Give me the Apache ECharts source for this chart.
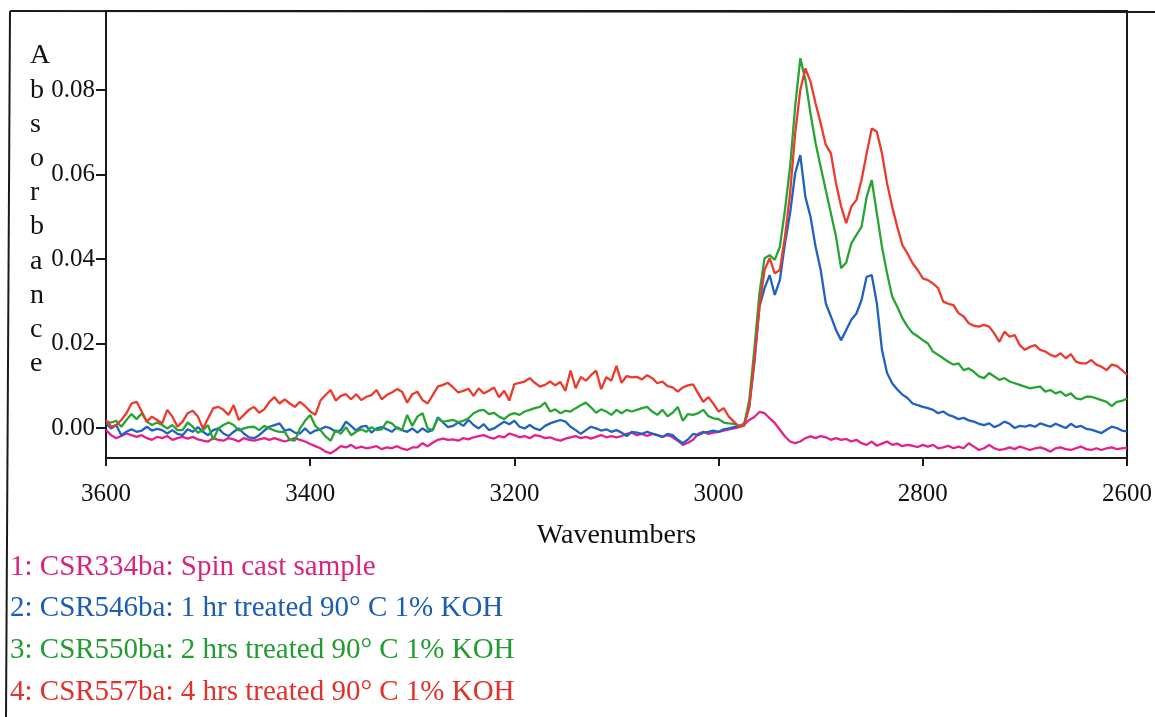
<!DOCTYPE html>
<html>
<head>
<meta charset="utf-8">
<script src="https://cdn.jsdelivr.net/npm/echarts@6/dist/echarts.min.js"></script>
<style>
html,body{margin:0;padding:0;background:#fff;}
#chart{width:1155px;height:717px;}
</style>
</head>
<body>
<div id="chart"></div>
<script>
// x sampling grid: 3600 -> 2600 cm-1, every 5 cm-1 (201 points)
const wavenumbers = [];
for (let w = 3600; w >= 2600; w -= 5) wavenumbers.push(w);

const seriesNames = [
  '1: CSR334ba: Spin cast sample',
  '2: CSR546ba: 1 hr treated 90° C 1% KOH',
  '3: CSR550ba: 2 hrs treated 90° C 1% KOH',
  '4: CSR557ba: 4 hrs treated 90° C 1% KOH'
];

const yTickValues = [0, 0.02, 0.04, 0.06, 0.08];
const xTickLabels = [3600, 3400, 3200, 3000, 2800, 2600];

const spinCast = [
  -0.0005,-0.0017,-0.0024,-0.0019,-0.0013,-0.0017,-0.0021,-0.0017,-0.0024,-0.0028,
  -0.0021,-0.0024,-0.0019,-0.0028,-0.0024,-0.0021,-0.0025,-0.0021,-0.0027,-0.0030,
  -0.0032,-0.0024,-0.0028,-0.0030,-0.0024,-0.0027,-0.0032,-0.0024,-0.0028,-0.0030,
  -0.0027,-0.0024,-0.0028,-0.0024,-0.0028,-0.0032,-0.0028,-0.0024,-0.0028,-0.0032,
  -0.0038,-0.0043,-0.0048,-0.0056,-0.0060,-0.0052,-0.0043,-0.0046,-0.0040,-0.0048,
  -0.0044,-0.0048,-0.0046,-0.0043,-0.0050,-0.0046,-0.0048,-0.0043,-0.0049,-0.0052,
  -0.0046,-0.0046,-0.0036,-0.0043,-0.0035,-0.0028,-0.0025,-0.0028,-0.0027,-0.0030,
  -0.0024,-0.0027,-0.0022,-0.0019,-0.0017,-0.0022,-0.0025,-0.0019,-0.0022,-0.0013,
  -0.0017,-0.0022,-0.0019,-0.0024,-0.0017,-0.0019,-0.0024,-0.0022,-0.0027,-0.0030,
  -0.0025,-0.0022,-0.0019,-0.0024,-0.0021,-0.0025,-0.0021,-0.0017,-0.0022,-0.0019,
  -0.0022,-0.0019,-0.0014,-0.0011,-0.0017,-0.0014,-0.0019,-0.0014,-0.0017,-0.0021,
  -0.0017,-0.0022,-0.0030,-0.0040,-0.0035,-0.0028,-0.0014,-0.0009,-0.0014,-0.0011,
  -0.0009,-0.0006,-0.0003,-0.0001,0.0002,0.0008,0.0019,0.0026,0.0038,0.0035,
  0.0023,0.0012,-0.0004,-0.0020,-0.0032,-0.0036,-0.0032,-0.0024,-0.0020,-0.0024,
  -0.0019,-0.0022,-0.0028,-0.0024,-0.0028,-0.0026,-0.0032,-0.0028,-0.0036,-0.0040,
  -0.0032,-0.0042,-0.0037,-0.0032,-0.0040,-0.0037,-0.0043,-0.0040,-0.0042,-0.0045,
  -0.0040,-0.0044,-0.0040,-0.0048,-0.0046,-0.0042,-0.0048,-0.0044,-0.0048,-0.0036,
  -0.0044,-0.0052,-0.0048,-0.0040,-0.0048,-0.0052,-0.0050,-0.0046,-0.0050,-0.0044,
  -0.0048,-0.0052,-0.0048,-0.0046,-0.0050,-0.0056,-0.0048,-0.0046,-0.0050,-0.0052,
  -0.0048,-0.0044,-0.0050,-0.0052,-0.0048,-0.0052,-0.0048,-0.0046,-0.0050,-0.0048,
  -0.0047
];

const treated1hr = [
  0.0011,-0.0001,0.0007,-0.0017,-0.0009,-0.0003,-0.0009,-0.0006,0.0003,-0.0006,
  -0.0002,-0.0005,-0.0013,-0.0005,-0.0014,-0.0017,-0.0003,-0.0009,0.0002,-0.0009,
  -0.0017,-0.0005,-0.0001,-0.0013,-0.0019,-0.0009,-0.0001,-0.0013,-0.0022,-0.0024,
  -0.0017,-0.0006,0.0003,0.0007,0.0011,-0.0006,-0.0003,-0.0011,-0.0013,-0.0001,
  -0.0013,-0.0006,-0.0003,0.0003,-0.0001,-0.0009,-0.0005,0.0015,0.0005,-0.0006,
  0.0003,0.0005,-0.0011,-0.0001,0.0002,-0.0003,-0.0009,0.0002,-0.0005,-0.0009,
  -0.0001,-0.0011,-0.0001,-0.0009,-0.0005,0.0025,0.0013,0.0002,0.0005,0.0013,
  0.0005,0.0019,0.0007,-0.0001,0.0009,-0.0005,-0.0001,0.0007,0.0015,0.0009,
  0.0017,0.0003,-0.0001,0.0007,-0.0001,-0.0005,0.0005,0.0011,0.0015,0.0019,
  0.0015,0.0003,-0.0005,-0.0014,-0.0005,0.0003,-0.0001,-0.0006,-0.0003,-0.0009,
  -0.0005,-0.0011,-0.0019,-0.0009,-0.0011,-0.0014,-0.0009,-0.0013,-0.0017,-0.0021,
  -0.0014,-0.0017,-0.0028,-0.0036,-0.0027,-0.0014,-0.0017,-0.0011,-0.0009,-0.0006,
  -0.0009,-0.0003,-0.0001,0.0002,0.0005,0.0010,0.0050,0.0153,0.0287,0.0331,
  0.0362,0.0315,0.0350,0.0437,0.0508,0.0603,0.0646,0.0547,0.0500,0.0429,
  0.0374,0.0295,0.0264,0.0232,0.0208,0.0232,0.0256,0.0271,0.0303,0.0358,
  0.0362,0.0295,0.0185,0.0130,0.0106,0.0091,0.0079,0.0071,0.0058,0.0054,
  0.0050,0.0047,0.0043,0.0035,0.0039,0.0031,0.0027,0.0021,0.0024,0.0018,
  0.0015,0.0010,0.0007,0.0011,0.0002,0.0007,0.0015,0.0010,0.0000,0.0005,
  0.0003,0.0007,0.0003,0.0011,0.0007,0.0003,0.0010,0.0005,0.0000,0.0010,
  0.0002,0.0005,-0.0002,-0.0004,-0.0008,-0.0012,-0.0004,0.0003,0.0000,-0.0006,
  -0.0008
];

const treated2hrs = [
  0.0015,0.0013,0.0017,0.0003,0.0019,0.0033,0.0021,0.0035,0.0015,0.0007,
  0.0013,0.0007,-0.0001,0.0007,-0.0005,-0.0005,0.0013,0.0003,-0.0011,-0.0005,
  0.0007,-0.0028,-0.0001,0.0007,0.0013,0.0007,-0.0006,-0.0001,0.0002,0.0003,
  -0.0005,0.0005,-0.0001,-0.0006,-0.0009,-0.0009,-0.0028,-0.0030,-0.0001,0.0017,
  0.0031,0.0005,-0.0005,-0.0020,-0.0030,-0.0005,-0.0014,0.0002,-0.0017,-0.0009,
  -0.0003,-0.0009,0.0002,-0.0005,-0.0003,0.0015,0.0011,-0.0001,-0.0005,0.0031,
  0.0005,0.0027,0.0035,-0.0001,-0.0005,0.0023,0.0015,0.0017,0.0019,0.0014,
  0.0017,0.0023,0.0035,0.0041,0.0043,0.0033,0.0036,0.0027,0.0021,0.0031,
  0.0035,0.0031,0.0039,0.0043,0.0047,0.0050,0.0060,0.0039,0.0044,0.0035,
  0.0041,0.0039,0.0047,0.0054,0.0060,0.0049,0.0036,0.0044,0.0039,0.0031,
  0.0043,0.0035,0.0043,0.0039,0.0043,0.0047,0.0050,0.0039,0.0031,0.0043,
  0.0028,0.0036,0.0050,0.0017,0.0033,0.0031,0.0035,0.0043,0.0028,0.0023,
  0.0021,0.0013,0.0011,0.0010,0.0005,0.0008,0.0066,0.0185,0.0319,0.0402,
  0.0409,0.0398,0.0429,0.0516,0.0618,0.0761,0.0875,0.0824,0.0745,0.0674,
  0.0618,0.0563,0.0508,0.0453,0.0378,0.0392,0.0437,0.0457,0.0476,0.0547,
  0.0587,0.0508,0.0429,0.0366,0.0311,0.0287,0.0260,0.0240,0.0225,0.0217,
  0.0208,0.0200,0.0181,0.0173,0.0165,0.0157,0.0150,0.0153,0.0137,0.0141,
  0.0133,0.0122,0.0118,0.0130,0.0122,0.0114,0.0118,0.0110,0.0106,0.0102,
  0.0098,0.0094,0.0096,0.0098,0.0086,0.0090,0.0082,0.0086,0.0076,0.0082,
  0.0070,0.0068,0.0074,0.0074,0.0070,0.0066,0.0062,0.0052,0.0062,0.0064,
  0.0070
];

const treated4hrs = [
  0.0019,0.0003,0.0007,0.0019,0.0035,0.0058,0.0062,0.0039,0.0015,0.0027,
  0.0019,0.0011,0.0043,0.0027,0.0003,0.0015,0.0035,0.0041,0.0027,-0.0001,
  0.0023,0.0047,0.0050,0.0043,0.0031,0.0054,0.0019,0.0031,0.0043,0.0050,
  0.0036,0.0044,0.0062,0.0073,0.0058,0.0068,0.0058,0.0050,0.0062,0.0052,
  0.0039,0.0031,0.0065,0.0078,0.0090,0.0065,0.0076,0.0080,0.0068,0.0080,
  0.0066,0.0074,0.0078,0.0090,0.0068,0.0078,0.0084,0.0092,0.0086,0.0060,
  0.0080,0.0086,0.0066,0.0058,0.0078,0.0098,0.0102,0.0107,0.0096,0.0084,
  0.0088,0.0093,0.0076,0.0094,0.0082,0.0088,0.0096,0.0073,0.0088,0.0065,
  0.0104,0.0107,0.0110,0.0118,0.0107,0.0098,0.0102,0.0110,0.0101,0.0109,
  0.0088,0.0136,0.0094,0.0121,0.0112,0.0125,0.0136,0.0092,0.0120,0.0112,
  0.0147,0.0107,0.0123,0.0120,0.0121,0.0115,0.0125,0.0118,0.0106,0.0110,
  0.0099,0.0096,0.0086,0.0096,0.0101,0.0103,0.0082,0.0062,0.0073,0.0057,
  0.0039,0.0047,0.0027,0.0015,0.0003,0.0005,0.0050,0.0161,0.0287,0.0374,
  0.0402,0.0366,0.0374,0.0453,0.0555,0.0697,0.0800,0.0851,0.0820,0.0768,
  0.0721,0.0670,0.0650,0.0579,0.0524,0.0485,0.0524,0.0540,0.0587,0.0650,
  0.0709,0.0701,0.0650,0.0579,0.0524,0.0476,0.0433,0.0413,0.0390,0.0374,
  0.0354,0.0350,0.0342,0.0331,0.0299,0.0294,0.0291,0.0272,0.0264,0.0248,
  0.0242,0.0240,0.0244,0.0240,0.0224,0.0204,0.0228,0.0216,0.0220,0.0196,
  0.0185,0.0192,0.0196,0.0185,0.0181,0.0173,0.0169,0.0177,0.0165,0.0175,
  0.0157,0.0153,0.0153,0.0161,0.0150,0.0145,0.0137,0.0150,0.0147,0.0137,
  0.0126
];

const seriesValues = [spinCast, treated1hr, treated2hrs, treated4hrs];
const lineColors = ['#e2218b', '#1f62c4', '#27a532', '#ec3a2d'];
const textColors = ['#d9237f', '#1b5db6', '#229c30', '#e2312a'];

const SERIF = '"Liberation Serif", "DejaVu Serif", serif';

const chart = echarts.init(document.getElementById('chart'), null, {renderer: 'canvas'});

const series = seriesValues.map((vals, i) => ({
  name: seriesNames[i],
  type: 'line',
  showSymbol: false,
  symbol: 'none',
  smooth: false,
  animation: false,
  lineStyle: {color: lineColors[i], width: 2.3},
  itemStyle: {color: lineColors[i]},
  data: vals.map((v, j) => [wavenumbers[j], v]),
  z: 2 + i
}));

chart.setOption({
  backgroundColor: '#ffffff',
  animation: false,
  grid: {
    left: 106, right: 26, top: 11, bottom: 259,
    show: true, borderColor: '#1a1a1a', borderWidth: 2, backgroundColor: 'transparent'
  },
  legend: {
    orient: 'vertical',
    left: 5,
    top: 552,
    height: 170,
    padding: 0,
    icon: 'none',
    itemWidth: 0,
    itemHeight: 30,
    itemGap: 11.7,
    selectedMode: false,
    data: seriesNames.map((n, i) => ({name: n, icon: 'none', textStyle: {color: textColors[i]}})),
    textStyle: {fontFamily: SERIF, fontSize: 29, lineHeight: 30}
  },
  xAxis: {
    type: 'value',
    inverse: true,
    min: 2600,
    max: 3600,
    interval: 200,
    name: 'Wavenumbers',
    nameLocation: 'middle',
    nameGap: 64,
    nameTextStyle: {fontFamily: SERIF, fontSize: 28, color: '#111'},
    axisLine: {show: true, onZero: false, lineStyle: {color: '#1a1a1a', width: 2}},
    axisTick: {show: true, inside: false, length: 8, lineStyle: {color: '#1a1a1a', width: 2}},
    axisLabel: {
      fontFamily: SERIF, fontSize: 25, color: '#111', margin: 24,
      formatter: v => (xTickLabels.indexOf(v) >= 0 ? String(v) : '')
    },
    splitLine: {show: false}
  },
  yAxis: {
    type: 'value',
    min: -0.0071,
    max: 0.0987,
    axisLine: {show: true, onZero: false, lineStyle: {color: '#1a1a1a', width: 2}},
    axisTick: {show: true, inside: false, length: 10, customValues: yTickValues, lineStyle: {color: '#1a1a1a', width: 2}},
    axisLabel: {
      fontFamily: SERIF, fontSize: 25, color: '#111', margin: 11,
      customValues: yTickValues,
      formatter: v => v.toFixed(2)
    },
    splitLine: {show: false}
  },
  graphic: [
    {type: 'line', shape: {x1: 10, y1: 11, x2: 1155, y2: 12}, style: {stroke: '#1a1a1a', lineWidth: 2}, z: 10},
    {type: 'line', shape: {x1: 10, y1: 11, x2: 6, y2: 717}, style: {stroke: '#1a1a1a', lineWidth: 2}, z: 10},
    {
      type: 'text', left: 30, top: 39, z: 10,
      style: {
        text: 'A\nb\ns\no\nr\nb\na\nn\nc\ne',
        font: '28px ' + SERIF,
        fill: '#111',
        lineHeight: 34.2,
        align: 'center',
        width: 26
      }
    }
  ],
  series: series
});
</script>
</body>
</html>
